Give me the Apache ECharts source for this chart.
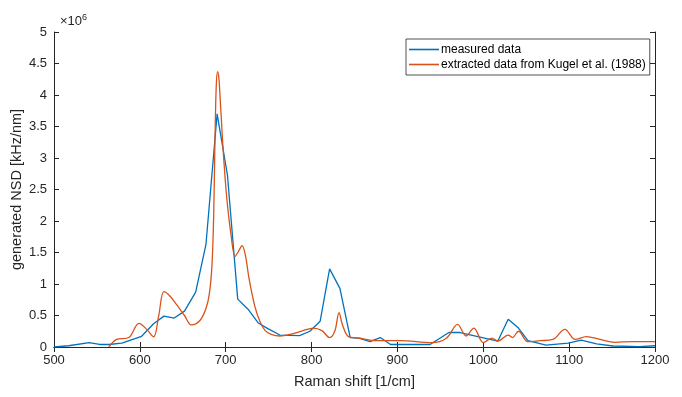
<!DOCTYPE html>
<html>
<head>
<meta charset="utf-8">
<script src="https://cdn.jsdelivr.net/npm/echarts@6/dist/echarts.min.js"></script>
<style>
  html, body { margin: 0; padding: 0; background: #fff; }
  #chart { width: 682px; height: 397px; }
</style>
</head>
<body>
<div id="chart"></div>
<script>
// values in units of 1e6 kHz/nm
var measuredX = [500, 517, 541, 553, 564, 579, 602, 616, 628, 640, 652, 665, 677, 690, 702, 714, 726, 738, 748, 763, 786, 798, 810, 821, 833, 845, 855, 868, 880, 892, 938, 960, 973, 1017, 1029, 1041, 1052, 1073, 1099, 1114, 1132, 1151, 1182, 1200];
var measuredY = [0.0, 0.02, 0.07, 0.04, 0.04, 0.06, 0.17, 0.37, 0.49, 0.46, 0.57, 0.87, 1.63, 3.70, 2.73, 0.76, 0.60, 0.38, 0.30, 0.19, 0.18, 0.25, 0.41, 1.24, 0.93, 0.15, 0.14, 0.085, 0.15, 0.04, 0.04, 0.23, 0.23, 0.095, 0.44, 0.30, 0.10, 0.03, 0.06, 0.11, 0.05, 0.016, 0.005, 0.02];

var kugelX = [564, 573, 587, 599, 608, 616, 622, 628, 635, 643, 652, 660, 670, 677, 681, 684, 686, 687.5, 689, 690.5, 692, 693.5, 695, 697, 701, 706, 711, 715, 719, 723, 727, 734, 740, 746, 753, 763, 775, 790, 802, 812, 821, 827, 832, 836, 843, 856, 868, 876, 903, 940, 957, 970, 980, 989, 1000, 1010, 1017, 1029, 1034, 1041, 1052, 1066, 1081, 1095, 1107, 1120, 1136, 1153, 1174, 1200];
var kugelY = [0.0, 0.12, 0.15, 0.375, 0.28, 0.16, 0.5, 0.88, 0.81, 0.67, 0.5, 0.35, 0.42, 0.61, 0.85, 1.3, 2.1, 3.3, 4.15, 4.37, 4.27, 3.95, 3.6, 3.13, 2.4, 1.8, 1.44, 1.52, 1.61, 1.45, 1.1, 0.64, 0.40, 0.26, 0.20, 0.175, 0.20, 0.26, 0.30, 0.26, 0.15, 0.25, 0.545, 0.35, 0.165, 0.14, 0.11, 0.10, 0.10, 0.07, 0.14, 0.36, 0.175, 0.30, 0.07, 0.14, 0.095, 0.19, 0.15, 0.25, 0.085, 0.10, 0.12, 0.28, 0.12, 0.165, 0.12, 0.075, 0.085, 0.085];

var xTicks = [500, 600, 700, 800, 900, 1000, 1100, 1200];
var yTicks = [0, 0.5, 1, 1.5, 2, 2.5, 3, 3.5, 4, 4.5, 5];

var pairs = function (xs, ys) {
    var out = [];
    for (var i = 0; i < xs.length; i++) {
        out.push([xs[i], ys[i]]);
    }
    return out;
};

var axisColor = '#262626';
var font = 'Liberation Sans, Arial, Helvetica, sans-serif';

var chart = echarts.init(document.getElementById('chart'), null, {renderer: 'canvas'});

var option = {
    animation: false,
    textStyle: {fontFamily: font},
    grid: {left: 54, right: 27, top: 32, bottom: 50, outerBoundsMode: 'none', containLabel: false},
    legend: {
        orient: 'vertical',
        left: 406,
        top: 39,
        padding: [4, 4, 4, 3],
        icon: 'rect',
        itemWidth: 30,
        itemHeight: 1.6,
        itemGap: 2,
        borderColor: '#262626',
        borderWidth: 0.8,
        backgroundColor: '#fff',
        textStyle: {color: '#000', fontSize: 12, fontFamily: font, padding: [0, 0, 0, -3], lineHeight: 13},
        data: ['measured data', 'extracted data from Kugel et al. (1988)']
    },
    graphic: [{
        type: 'text',
        left: 60,
        top: 13,
        style: {
            text: '{a|×10}{b|6}',
            rich: {
                a: {fontSize: 13, fill: axisColor, fontFamily: font},
                b: {fontSize: 9, fill: axisColor, fontFamily: font, verticalAlign: 'top', padding: [0, 0, 8, 0]}
            }
        }
    }],
    xAxis: [{
        type: 'value',
        min: 500,
        max: 1200,
        interval: 100,
        name: 'Raman shift [1/cm]',
        nameLocation: 'middle',
        nameGap: 27,
        nameTextStyle: {fontSize: 14.5, color: axisColor, fontFamily: font},
        axisLine: {lineStyle: {color: axisColor, width: 1}},
        axisTick: {inside: true, length: 5, lineStyle: {color: axisColor}},
        axisLabel: {
            fontSize: 13, color: axisColor, margin: 7,
            formatter: function (v) { return xTicks.indexOf(v) >= 0 ? String(v) : ''; }
        },
        splitLine: {show: false}
    }, {
        type: 'value',
        position: 'top',
        min: 500,
        max: 1200,
        interval: 100,
        axisLine: {lineStyle: {color: axisColor, width: 1}},
        axisTick: {inside: true, length: 5, lineStyle: {color: axisColor}},
        axisLabel: {show: false},
        splitLine: {show: false}
    }],
    yAxis: [{
        type: 'value',
        min: 0,
        max: 5,
        interval: 0.5,
        name: 'generated NSD [kHz/nm]',
        nameLocation: 'middle',
        nameMoveOverlap: false,
        nameGap: 30,
        nameTextStyle: {fontSize: 14.5, color: axisColor, fontFamily: font},
        axisLine: {show: true, lineStyle: {color: axisColor, width: 1}},
        axisTick: {show: true, inside: true, length: 5, lineStyle: {color: axisColor}},
        axisLabel: {
            fontSize: 13, color: axisColor, margin: 7,
            formatter: function (v) { return yTicks.indexOf(v) >= 0 ? String(v) : ''; }
        },
        splitLine: {show: false}
    }, {
        type: 'value',
        position: 'right',
        min: 0,
        max: 5,
        interval: 0.5,
        axisLine: {show: true, lineStyle: {color: axisColor, width: 1}},
        axisTick: {show: true, inside: true, length: 5, lineStyle: {color: axisColor}},
        axisLabel: {show: false},
        splitLine: {show: false}
    }],
    series: [{
        name: 'measured data',
        type: 'line',
        symbol: 'none',
        color: '#0072BD',
        lineStyle: {width: 1.3, color: '#0072BD'},
        data: pairs(measuredX, measuredY)
    }, {
        name: 'extracted data from Kugel et al. (1988)',
        type: 'line',
        symbol: 'none',
        smooth: 0.35,
        color: '#D95319',
        lineStyle: {width: 1.3, color: '#D95319'},
        data: pairs(kugelX, kugelY)
    }]
};

chart.setOption(option);
</script>
</body>
</html>
